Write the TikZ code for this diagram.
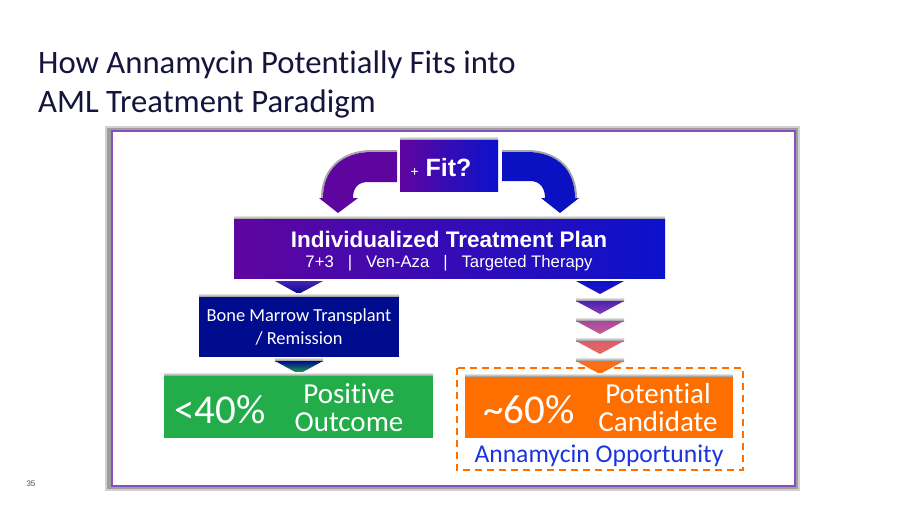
\documentclass[tikz,border=0pt]{standalone}
\usepackage{fontspec}
\setmainfont[Ligatures=NoCommon]{Carlito}
\newfontfamily\arialfont{Liberation Sans}
\usepackage{tikz}

\definecolor{planpurple}{HTML}{5F059F}
\definecolor{planblue}{HTML}{0A12CC}
\definecolor{marrowblue}{HTML}{000C8E}
\definecolor{goodgreen}{HTML}{22AC4A}
\definecolor{candorange}{HTML}{FF6F00}
\definecolor{oppblue}{HTML}{1A35DC}
\definecolor{framepurple}{HTML}{8A4FBF}
\definecolor{titleink}{HTML}{14143C}
\definecolor{tipone}{HTML}{2A12C4}
\definecolor{tiptwo}{HTML}{4A22B4}
\definecolor{tipthree}{HTML}{8A3CB0}
\definecolor{tipfour}{HTML}{A8479F}
\definecolor{tipfive}{HTML}{C4608E}
\definecolor{tipsix}{HTML}{D85E70}
\definecolor{tipseven}{HTML}{E86A5C}
\definecolor{tipeight}{HTML}{F56F20}

\tikzset{
	plainbox/.style={inner sep=0pt, text=white, align=center},
	boxlabel/.style={inner sep=0pt, text=white, align=center},
}

\newcommand{\topshade}[3]{\shade[top color=white, bottom color=black!45] (#1, #3-4) rectangle (#2, #3);}
\newcommand{\downtip}[4]{
	\topshade{#1-24}{#1+24}{#2}
	\shade[top color=#3, bottom color=#4] (#1-24, #2) -- (#1+24, #2) -- (#1, #2+13) -- cycle;
}
\newcommand{\bendleft}{(397,152) -- (372,152) .. controls (342,152) and (323,170) .. (323,198) -- (319,198) -- (338,213) -- (358,198) -- (353,198) .. controls (353,188) and (358,182) .. (368,182) -- (397,182) -- cycle}
\newcommand{\bendright}{(502,152) -- (527,152) .. controls (557,152) and (575,170) .. (575,198) -- (579,198) -- (560,213) -- (541,198) -- (545,198) .. controls (545,188) and (540,181) .. (530,181) -- (502,181) -- cycle}

\begin{document}
\begin{tikzpicture}[x=1pt,y=-1pt]
	\useasboundingbox (0,0) rectangle (900,506);
	\fill[white] (0,0) rectangle (900,506);

	% title and page number
	\node[anchor=north west, inner sep=0pt, align=left, text=titleink, font=\fontsize{32.7}{38.5}\selectfont] (title) at (38,51) {How Annamycin Potentially Fits into\\AML Treatment Paradigm};
	\node[inner sep=0pt, text=black!70, font=\arialfont\fontsize{8}{10}\selectfont] (pagenum) at (31,484) {35};

	% frame
	\fill[black!18] (105,126) rectangle (800,491);
	\fill[black!38] (107,128) rectangle (798,489);
	\fill[white, draw=framepurple, line width=1.2pt] (112,131) rectangle (795,486);

	% top arrows
	\draw[black!35, line width=2pt] (397,151) -- (372,151) .. controls (341,151) and (322,170) .. (322,198);
	\draw[black!35, line width=2pt] (502,151) -- (527,151) .. controls (558,151) and (576,170) .. (576,198);
	\fill[planpurple] \bendleft;
	\fill[planblue!95!black] \bendright;

	\topshade{400}{498}{140}
	\node[plainbox, minimum width=98pt, minimum height=51pt, left color=planpurple, right color=planblue] (fit) at (449,165.5) {};
	\node[boxlabel, font=\arialfont\bfseries\fontsize{25}{28}\selectfont] (fitlabel) at (441,168) {{\fontsize{14}{14}\selectfont\mdseries +}\hspace{7pt}Fit?};

	% plan
	\topshade{234}{665}{219}
	\node[plainbox, minimum width=431pt, minimum height=59pt, left color=planpurple, right color=planblue] (plan) at (449.5,248.5) {};
	\node[boxlabel, font=\arialfont\bfseries\fontsize{22.5}{26}\selectfont] (planlabel) at (449,239) {Individualized Treatment Plan};
	\node[boxlabel, font=\arialfont\fontsize{16.7}{20}\selectfont] (planlist) at (449,263) {7+3\hspace{14pt}|\hspace{14pt}Ven-Aza\hspace{14pt}|\hspace{14pt}Targeted Therapy};

	% left branch
	\shade[top color=tiptwo, bottom color=marrowblue] (275,281) -- (323,281) -- (298.5,294) -- cycle;
	\topshade{199}{399}{297}
	\node[plainbox, minimum width=200pt, minimum height=60pt, fill=marrowblue] (marrow) at (299,327) {};
	\node[boxlabel, font=\fontsize{18.4}{23}\selectfont] (marrowlabel) at (299,327) {Bone Marrow Transplant\\/ Remission};
	\downtip{299}{361}{marrowblue}{goodgreen}
	\topshade{164}{433}{376}
	\node[plainbox, minimum width=269pt, minimum height=62pt, fill=goodgreen] (good) at (298.5,407) {};
	\node[boxlabel, font=\fontsize{41}{44}\selectfont] (goodpct) at (220,410) {<40\%};
	\node[boxlabel, font=\fontsize{29}{28}\selectfont] (goodlabel) at (349,408) {Positive\\Outcome};

	% right branch
	\shade[top color=planblue, bottom color=tipone] (576,281) -- (624,281) -- (600,294) -- cycle;
	\downtip{600}{301}{tiptwo}{tipthree}
	\downtip{600}{321}{tipfour}{tipfive}
	\downtip{600}{341}{tipsix}{tipseven}
	\downtip{600}{361}{tipeight}{candorange}
	\topshade{465}{733}{377}
	\node[plainbox, minimum width=268pt, minimum height=61pt, fill=candorange] (cand) at (599,407.5) {};
	\node[boxlabel, font=\fontsize{41}{44}\selectfont] (candpct) at (529,410) {\textasciitilde 60\%};
	\node[boxlabel, font=\fontsize{29}{28}\selectfont] (candlabel) at (658,408) {Potential\\Candidate};

	% opportunity
	\draw[candorange, line width=1.5pt, dash pattern=on 7pt off 5pt] (457,368) rectangle (743,470);
	\node[inner sep=0pt, text=oppblue, font=\fontsize{25.6}{30}\selectfont] (opp) at (599,456) {Annamycin Opportunity};
\end{tikzpicture}
\end{document}
